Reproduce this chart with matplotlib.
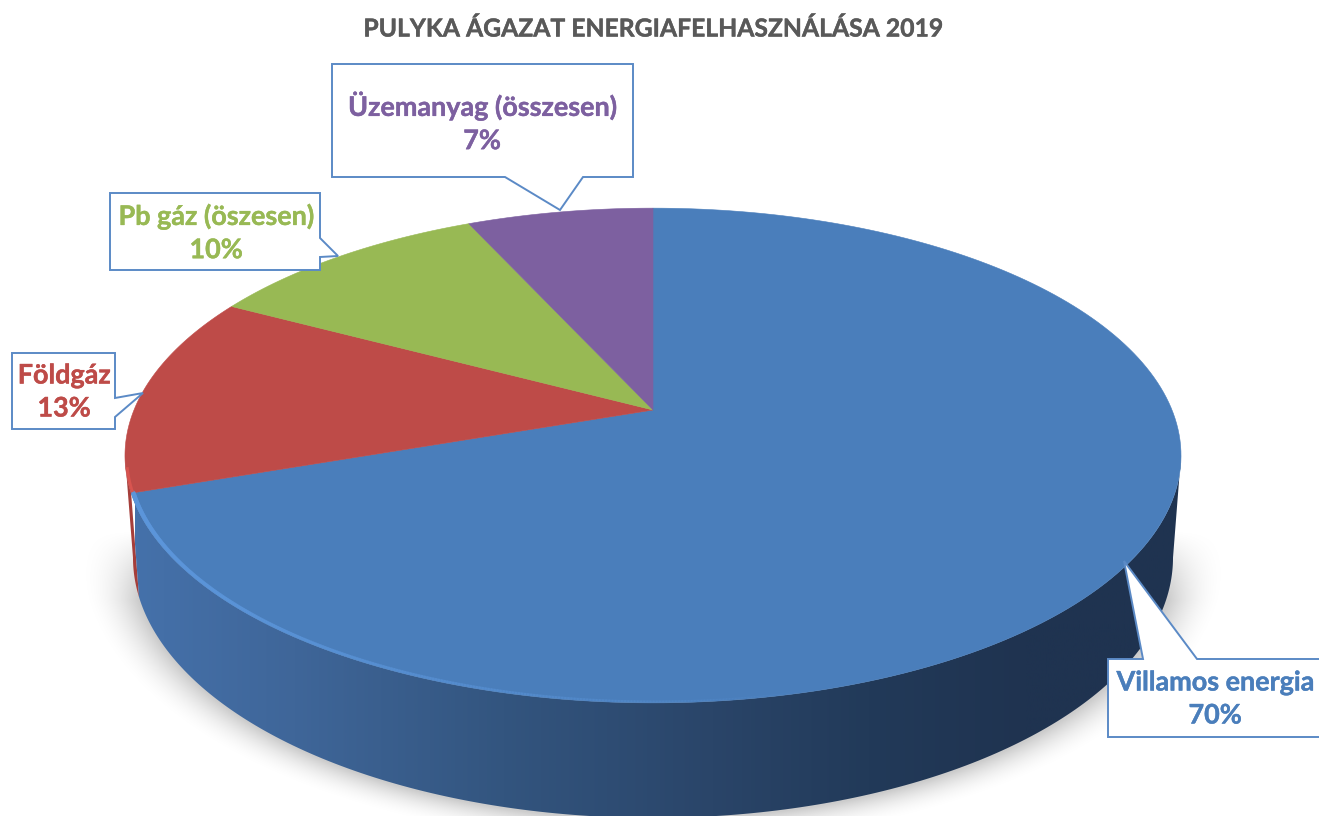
"""
Pie chart of the turkey sector energy use, drawn as a tilted 3D disc
"""
import matplotlib
matplotlib.use('Agg')
import matplotlib.pyplot as plt
import matplotlib.patheffects as pe
import numpy as np
from matplotlib.collections import LineCollection
from matplotlib.colors import LinearSegmentedColormap
from matplotlib.patches import Polygon

title = 'PULYKA ÁGAZAT ENERGIAFELHASZNÁLÁSA 2019'
labels = ['Villamos energia', 'Földgáz', 'Pb gáz (öszesen)', 'Üzemanyag (összesen)']
# read from the slice borders, they round to the printed 70/13/10/7
values = [69.7, 13.1, 10.4, 6.8]
colors = ['#4a7ebb', '#be4b48', '#98b954', '#7d60a0']

# perspective of the disc, in pixels
CX, CY = 653, 410
A, B, K = 519, 239, 0.184
# bottom face relative to the top one
TOP_CY = 455
BOTTOM_CY = 557
SX, SY = 520 / 528, 260 / 247


def top_face(theta, r=1.0):
    """theta in degrees, clockwise from 12 o'clock"""
    t = np.radians(theta)
    u = r * np.sin(t)
    v = r * np.cos(t)
    w = 1 + K * v
    return CX + A * u / w, CY - B * v / w


def bottom_face(theta):
    x, y = top_face(theta)
    return CX + SX * (x - CX), BOTTOM_CY + SY * (y - TOP_CY)


def side_points(t1, t2):
    th = np.linspace(t1, t2, 200)
    x1, y1 = top_face(th)
    x2, y2 = bottom_face(th[::-1])
    return np.column_stack([np.r_[x1, x2], np.r_[y1, y2]])


fig = plt.figure(figsize=(13.19, 8.16), dpi=100)
ax = fig.add_axes([0, 0, 1, 1])
ax.set_xlim(0, 1319)
ax.set_ylim(816, 0)
ax.axis('off')

# soft shadow under the disc
gx, gy = np.meshgrid(np.arange(0, 1319), np.arange(0, 816))
rr = np.sqrt(((gx - CX) / 522) ** 2 + ((gy - BOTTOM_CY) / 262) ** 2)
dist = (rr - 1) * 260
shadow = np.zeros(gx.shape + (4,))
shadow[..., 3] = 0.2 * np.clip(1 - dist / 28, 0, 1) ** 2 * np.clip((gy - 530) / 70, 0, 1)
ax.imshow(shadow, extent=(0, 1319, 816, 0), aspect='auto', zorder=1)

# wedge angles come from the values
edges = np.cumsum([0] + values) / sum(values) * 360
blue_end = edges[1]
right_th = np.degrees(np.arccos(-K))
left_th = 360 - right_th

# side of the red slice, peeking out left of the blue side
ax.add_patch(Polygon(side_points(blue_end, left_th), closed=True,
                     fc='#a53e3a', ec='none', zorder=2))

# side of the blue slice with a horizontal gradient
side_cmap = LinearSegmentedColormap.from_list('side', [
    (0.0, '#4571aa'), (0.15, '#3f6699'), (0.35, '#33557f'),
    (0.55, '#2a4569'), (0.7, '#223a59'), (0.85, '#1f3350'), (1.0, '#1f3350')])
grad = ax.imshow(np.linspace(0, 1, 512).reshape(1, -1), cmap=side_cmap,
                 extent=(135, 1185, 816, 440), aspect='auto', zorder=3)
clip = Polygon(side_points(right_th, blue_end), closed=True, transform=ax.transData,
               fc='none', ec='none')
ax.add_patch(clip)
grad.set_clip_path(clip)

# top face
for i, val in enumerate(values):
    th = np.linspace(edges[i], edges[i + 1], 200)
    x, y = top_face(th)
    pts = np.column_stack([np.r_[CX, x], np.r_[CY, y]])
    ax.add_patch(Polygon(pts, closed=True, fc=colors[i], ec=colors[i], lw=0.4, zorder=4))

# light rim on the front edge of the blue slice, fading to the right
th = np.linspace(blue_end, 165, 300)
x, y = top_face(th, 0.996)
pts = np.column_stack([x, y]).reshape(-1, 1, 2)
segs = np.concatenate([pts[:-1], pts[1:]], axis=1)
fade = np.linspace(1, 0, len(segs)) ** 0.8
rim = LineCollection(segs, colors=[(0.36, 0.59, 0.86, 0.8 * f) for f in fade],
                     linewidths=1.0 + 2.2 * fade, zorder=5, capstyle='round')
ax.add_collection(rim)

# lighter rim on the red slice
x, y = top_face(np.linspace(left_th - 3, blue_end + 0.5, 40), 0.997)
ax.plot(x, y, color='#d8544f', lw=2, zorder=5)

# callouts: outline of each box including its pointer
box_color = '#5b8ac6'
callouts = [
    [(1108, 659), (1143, 659), (1124, 561), (1197, 659), (1322, 659), (1322, 737), (1108, 737)],
    [(12, 353), (115, 353), (115, 398), (143, 393), (115, 417), (115, 429), (12, 429)],
    [(110, 193), (320, 193), (320, 238), (338, 256), (320, 257), (320, 270), (110, 270)],
    [(332, 64), (633, 64), (633, 177), (583, 177), (560, 210), (505, 177), (332, 177)],
]
text_pos = [(1215, 699), (64, 392), (216, 233), (482, 122)]
for i, val in enumerate(values):
    ax.add_patch(Polygon(callouts[i], closed=True, fc='white', ec=box_color, lw=1.4, zorder=6))
    ax.text(text_pos[i][0], text_pos[i][1], f'{labels[i]}\n{val:.0f}%', color=colors[i],
            family='Lato', weight='bold', fontsize=19.4, ha='center', va='center',
            linespacing=1.45, zorder=7,
            path_effects=[pe.withStroke(linewidth=0.3, foreground=colors[i])])

ax.text(654, 29, title, color='#595959', family='Lato', weight='bold', fontsize=17.8,
        ha='center', va='center', zorder=7,
        path_effects=[pe.withStroke(linewidth=0.3, foreground='#595959')])

plt.savefig('out.png', dpi=100)
